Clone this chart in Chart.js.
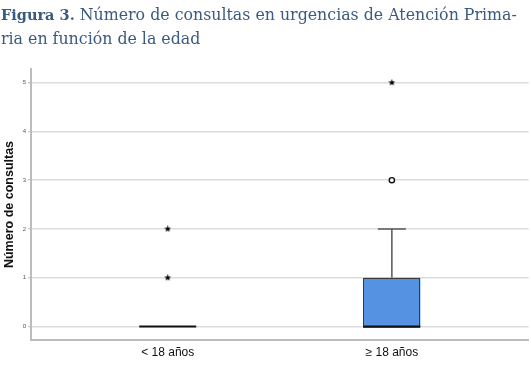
<!DOCTYPE html>
<html>
<head>
<meta charset="utf-8">
<script src="https://cdn.jsdelivr.net/npm/chart.js@4/dist/chart.umd.min.js"></script>
<style>
html,body{margin:0;padding:0;background:#fff;width:531px;height:380px;overflow:hidden;}
#title{position:absolute;left:1px;top:3px;font-family:"DejaVu Serif",serif;font-size:15.8px;line-height:24px;color:#3b5a80;white-space:nowrap;}
#title b{font-size:14.5px;}
#wrap{position:absolute;left:0;top:0;width:531px;height:380px;overflow:hidden;}
</style>
</head>
<body>
<div id="wrap"><canvas id="c" width="534" height="380"></canvas></div>
<div id="title"><b>Figura 3.</b> Número de consultas en urgencias de Atención Prima-<br>ria en función de la edad</div>
<script>
const categories = ['< 18 años', '≥ 18 años'];
const whiskerLow = [0, 0];
const q1 = [0, 0];
const median = [0, 0];
const q3 = [0, 1];
const whiskerHigh = [0, 2];
const outlierPoints = [[], [3]];
const extremePoints = [[1, 2], [5]];
const yTicks = [0, 1, 2, 3, 4, 5];

function makeStar(size){
  const c=document.createElement('canvas');c.width=size;c.height=size;
  const g=c.getContext('2d');g.fillStyle='#000';g.beginPath();
  const cx=size/2,cy=size/2,R=size/2,r=R*0.45;
  for(let i=0;i<10;i++){const a=-Math.PI/2+i*Math.PI/5;const rr=i%2?r:R;g.lineTo(cx+rr*Math.cos(a),cy+rr*Math.sin(a));}
  g.closePath();g.fill();return c;
}

const outData=[],extData=[];
outlierPoints.forEach((arr,i)=>arr.forEach(v=>outData.push({x:i,y:v})));
extremePoints.forEach((arr,i)=>arr.forEach(v=>extData.push({x:i,y:v})));

const boxPlugin={
  id:'boxes',
  beforeDatasetsDraw(chart){
    const ctx=chart.ctx,xs=chart.scales.x,ys=chart.scales.y;
    const bw=57,cw=28;
    ctx.save();
    categories.forEach((c,i)=>{
      const cx=xs.getPixelForValue(i);
      const yq1=ys.getPixelForValue(q1[i]),yq3=ys.getPixelForValue(q3[i]);
      const ylo=ys.getPixelForValue(whiskerLow[i]),yhi=ys.getPixelForValue(whiskerHigh[i]);
      const ymed=ys.getPixelForValue(median[i]);
      ctx.strokeStyle='#555';ctx.lineWidth=1.5;
      if(whiskerHigh[i]>q3[i]){
        ctx.beginPath();ctx.moveTo(cx,yq3);ctx.lineTo(cx,yhi);ctx.stroke();
        ctx.beginPath();ctx.moveTo(cx-cw/2,yhi);ctx.lineTo(cx+cw/2,yhi);ctx.stroke();
      }
      if(whiskerLow[i]<q1[i]){
        ctx.beginPath();ctx.moveTo(cx,yq1);ctx.lineTo(cx,ylo);ctx.stroke();
        ctx.beginPath();ctx.moveTo(cx-cw/2,ylo);ctx.lineTo(cx+cw/2,ylo);ctx.stroke();
      }
      if(q3[i]>q1[i]){
        ctx.fillStyle='#5592e2';
        ctx.fillRect(cx-bw/2,yq3,bw,yq1-yq3);
        ctx.strokeStyle='#3a3a3a';ctx.lineWidth=1;
        ctx.strokeRect(Math.round(cx-bw/2)+0.5,Math.round(yq3)+0.5,bw-1,yq1-yq3);
      }
      ctx.strokeStyle='#111';ctx.lineWidth=2;
      ctx.beginPath();ctx.moveTo(cx-bw/2,ymed);ctx.lineTo(cx+bw/2,ymed);ctx.stroke();
    });
    ctx.restore();
  }
};

new Chart(document.getElementById('c'),{
  type:'scatter',
  data:{datasets:[
    {label:'atípicos',data:outData,pointStyle:'circle',pointRadius:2.6,borderColor:'#111',borderWidth:1.4,backgroundColor:'#fff'},
    {label:'extremos',data:extData,pointStyle:makeStar(7),pointRadius:3.5}
  ]},
  options:{
    responsive:false,animation:false,
    layout:{padding:{top:69,right:0,left:2,bottom:0}},
    plugins:{legend:{display:false},tooltip:{enabled:false}},
    scales:{
      x:{type:'linear',min:-0.61,max:1.61,
        afterBuildTicks(s){s.ticks=categories.map((c,i)=>({value:i}));},
        afterFit(s){s.height=40;},
        grid:{display:false,drawTicks:false},
        border:{display:true,color:'#bcbcbc',width:2},
        ticks:{autoSkip:false,maxRotation:0,padding:5,color:'#111',font:{family:'"Liberation Sans",Arial,sans-serif',size:12},callback:(v)=>categories[v]}
      },
      y:{min:-0.276,max:5.28,
        afterBuildTicks(s){s.ticks=yTicks.map(v=>({value:v}));},
        afterFit(s){s.width=29;},
        grid:{color:'#dcdcdc',lineWidth:1.5,drawTicks:true,tickLength:3,tickColor:'#bbb',tickWidth:1},
        border:{display:true,color:'#bcbcbc',width:2},
        title:{display:true,text:'Número de consultas',color:'#111',font:{family:'"Liberation Sans",Arial,sans-serif',size:12.5,weight:'bold'},padding:{top:0,bottom:0}},
        ticks:{padding:2,color:'#555',font:{family:'"Liberation Sans",Arial,sans-serif',size:6}}
      }
    }
  },
  plugins:[boxPlugin]
});
</script>
</body>
</html>
